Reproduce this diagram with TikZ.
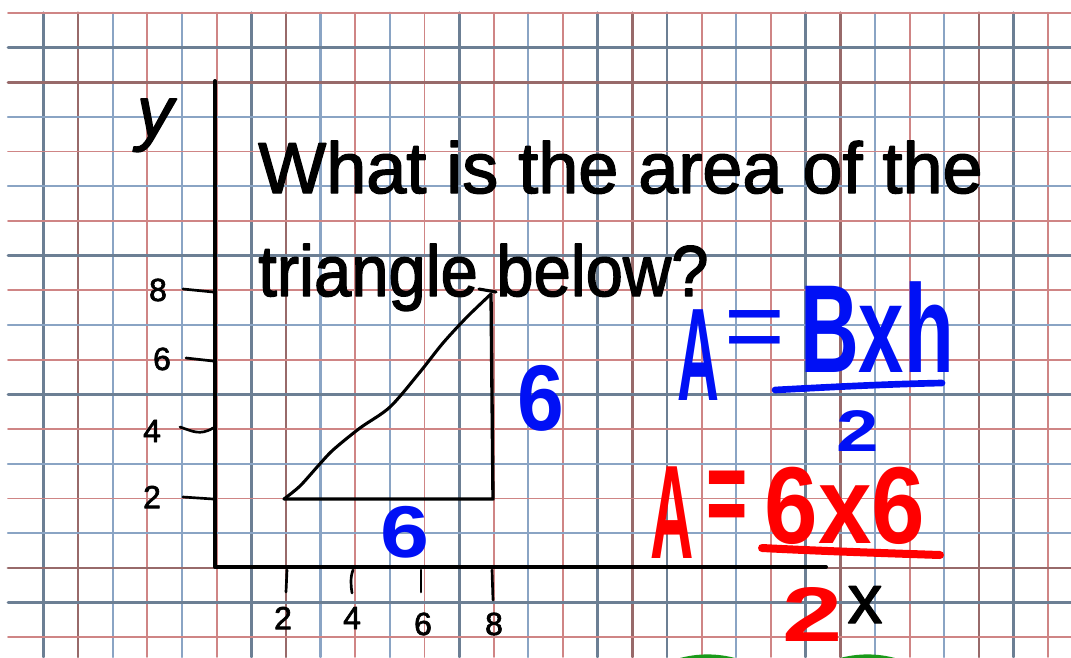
\documentclass[tikz,border=0pt]{standalone}
\usepackage{fontspec}
\setmainfont{Liberation Sans}
\newfontfamily\chalkfont[FakeBold=2]{Liberation Sans}
\usepackage{graphicx}
\usetikzlibrary{calc}
\definecolor{GridRed}{HTML}{CF8585}
\definecolor{GridRedDark}{HTML}{986A6A}
\definecolor{GridBlue}{HTML}{8AA4C4}
\definecolor{GridBlueDark}{HTML}{6C7F94}
\definecolor{PenBlue}{HTML}{0010F5}
\definecolor{PenRed}{HTML}{FF0000}
\definecolor{PenGreen}{HTML}{1A9A1A}
\definecolor{Ink}{HTML}{000000}

\begin{document}
\begin{tikzpicture}[x=0.75pt,y=-0.75pt,line cap=round,line join=round]
\useasboundingbox (0,0) rectangle (1071,657);
\fill[white] (0,0) rectangle (1071,657);
\draw[GridBlueDark,line width=2.1pt] (43.3,12.7) -- (43.3,657);
\draw[GridRedDark,line width=2.1pt] (78.0,12.7) -- (78.0,657);
\draw[GridBlue,line width=1.6pt] (112.6,12.7) -- (112.6,657);
\draw[GridRed,line width=1.4pt] (147.3,12.7) -- (147.3,657);
\draw[GridBlue,line width=1.6pt] (181.9,12.7) -- (181.9,657);
\draw[GridRed,line width=1.4pt] (216.6,12.7) -- (216.6,657);
\draw[GridBlueDark,line width=2.1pt] (251.2,12.7) -- (251.2,657);
\draw[GridRedDark,line width=2.1pt] (285.9,12.7) -- (285.9,657);
\draw[GridBlue,line width=1.6pt] (320.5,12.7) -- (320.5,657);
\draw[GridRed,line width=1.4pt] (355.2,12.7) -- (355.2,657);
\draw[GridBlue,line width=1.6pt] (389.8,12.7) -- (389.8,657);
\draw[GridRed,line width=1.4pt] (424.5,12.7) -- (424.5,657);
\draw[GridBlueDark,line width=2.1pt] (459.1,12.7) -- (459.1,657);
\draw[GridRed,line width=1.4pt] (493.8,12.7) -- (493.8,657);
\draw[GridBlue,line width=1.6pt] (528.4,12.7) -- (528.4,657);
\draw[GridRed,line width=1.4pt] (563.1,12.7) -- (563.1,657);
\draw[GridBlueDark,line width=2.1pt] (597.7,12.7) -- (597.7,657);
\draw[GridRedDark,line width=2.1pt] (632.4,12.7) -- (632.4,657);
\draw[GridBlueDark,line width=2.1pt] (667.0,12.7) -- (667.0,657);
\draw[GridRed,line width=1.4pt] (701.7,12.7) -- (701.7,657);
\draw[GridBlue,line width=1.6pt] (736.3,12.7) -- (736.3,657);
\draw[GridRed,line width=1.4pt] (771.0,12.7) -- (771.0,657);
\draw[GridBlueDark,line width=2.1pt] (805.6,12.7) -- (805.6,657);
\draw[GridRedDark,line width=2.1pt] (840.3,12.7) -- (840.3,657);
\draw[GridBlue,line width=1.6pt] (874.9,12.7) -- (874.9,657);
\draw[GridRed,line width=1.4pt] (909.6,12.7) -- (909.6,657);
\draw[GridBlue,line width=1.6pt] (944.2,12.7) -- (944.2,657);
\draw[GridRedDark,line width=2.1pt] (978.9,12.7) -- (978.9,657);
\draw[GridBlueDark,line width=2.1pt] (1013.5,12.7) -- (1013.5,657);
\draw[GridRed,line width=1.4pt] (1048.2,12.7) -- (1048.2,657);
\draw[GridRed,line width=1.4pt] (8,12.7) -- (1071,12.7);
\draw[GridBlueDark,line width=2.1pt] (8,47.4) -- (1071,47.4);
\draw[GridRedDark,line width=2.1pt] (8,82.1) -- (1071,82.1);
\draw[GridBlue,line width=1.6pt] (8,116.8) -- (1071,116.8);
\draw[GridRed,line width=1.4pt] (8,151.5) -- (1071,151.5);
\draw[GridBlue,line width=1.6pt] (8,186.2) -- (1071,186.2);
\draw[GridRed,line width=1.4pt] (8,220.9) -- (1071,220.9);
\draw[GridBlueDark,line width=2.1pt] (8,255.6) -- (1071,255.6);
\draw[GridRed,line width=1.4pt] (8,290.3) -- (1071,290.3);
\draw[GridBlue,line width=1.6pt] (8,325.0) -- (1071,325.0);
\draw[GridRed,line width=1.4pt] (8,359.7) -- (1071,359.7);
\draw[GridBlueDark,line width=2.1pt] (8,394.4) -- (1071,394.4);
\draw[GridRed,line width=1.4pt] (8,429.1) -- (1071,429.1);
\draw[GridBlue,line width=1.6pt] (8,463.8) -- (1071,463.8);
\draw[GridRed,line width=1.4pt] (8,498.5) -- (1071,498.5);
\draw[GridBlue,line width=1.6pt] (8,533.2) -- (1071,533.2);
\draw[GridRedDark,line width=2.1pt] (8,567.9) -- (1071,567.9);
\draw[GridBlueDark,line width=2.1pt] (8,602.6) -- (1071,602.6);
\draw[GridRed,line width=1.4pt] (8,637.3) -- (1071,637.3);
\coordinate (yTop) at (215,81);
\coordinate (origin) at (215,567);
\coordinate (xEnd) at (826,567);
\draw[Ink,line width=3pt] (yTop) -- (origin) -- (xEnd);
\draw[Ink,line width=2pt] (183,289) -- (213,292);
\draw[Ink,line width=2pt] (186,358) -- (213,361);
\draw[Ink,line width=2pt] (180,427) .. controls (192,431) and (200,436) .. (213,428);
\draw[Ink,line width=2pt] (183,497) -- (213,499);
\draw[Ink,line width=2pt] (287,570) -- (286,592);
\draw[Ink,line width=2pt] (353,570) .. controls (350,578) and (351,586) .. (352,593);
\draw[Ink,line width=2pt] (421,570) -- (421,592);
\draw[Ink,line width=2pt] (492,570) -- (493,600);
\node[font=\chalkfont\fontsize{24}{24}\selectfont,inner sep=0pt] (y8) at (158,290) {8};
\node[font=\chalkfont\fontsize{24}{24}\selectfont,inner sep=0pt] (y6) at (162,359) {6};
\node[font=\chalkfont\fontsize{24}{24}\selectfont,inner sep=0pt] (y4) at (152,431) {4};
\node[font=\chalkfont\fontsize{24}{24}\selectfont,inner sep=0pt] (y2) at (152,497) {2};
\node[font=\chalkfont\fontsize{24}{24}\selectfont,inner sep=0pt] (x2) at (283,618) {2};
\node[font=\chalkfont\fontsize{24}{24}\selectfont,inner sep=0pt] (x4) at (352,618) {4};
\node[font=\chalkfont\fontsize{24}{24}\selectfont,inner sep=0pt] (x6) at (423,624) {6};
\node[font=\chalkfont\fontsize{24}{24}\selectfont,inner sep=0pt] (x8) at (494,624) {8};
\node[font=\chalkfont\itshape\fontsize{54}{54}\selectfont,inner sep=0pt,anchor=base] (ylabel) at (155,137) {y};
\node[font=\chalkfont\fontsize{52}{52}\selectfont,inner sep=0pt,anchor=base] (xlabel) at (865,623) {x};
\node[font=\chalkfont\fontsize{54}{54}\selectfont,inner sep=0pt,anchor=base west] (line1) at (258,193) {What is the area of the};
\node[font=\chalkfont\fontsize{54}{54}\selectfont,inner sep=0pt,anchor=base west] (line2) at (258,296) {\scalebox{0.93}[1]{triangle below?}};
\coordinate (tA) at (284,499);
\coordinate (tB) at (493,499);
\coordinate (tC) at (491,294);
\draw[Ink,line width=2.3pt] plot[smooth] coordinates {(284,499) (300,486) (318,466) (333,450) (360,428) (390,407) (420,372) (443,343) (467,317) (491,294)};
\draw[Ink,line width=2.5pt] (tA) -- (tB) -- (tC);
\draw[Ink,line width=2.3pt] (479,289) -- (496,292);
\node[PenBlue,font=\bfseries\fontsize{70}{70}\selectfont,inner sep=0pt,anchor=base] (side) at (541,430) {\scalebox{0.9}[1]{6}};
\node[PenBlue,font=\bfseries\fontsize{55}{55}\selectfont,inner sep=0pt,anchor=base] (base) at (405,557) {\scalebox{1.2}[1]{6}};
\node[PenBlue,font=\bfseries\fontsize{99}{99}\selectfont,inner sep=0pt,anchor=base] (bA) at (698,400) {\scalebox{0.44}[1]{A}};
\node[PenBlue,font=\fontsize{78}{78}\selectfont,inner sep=0pt] (bEq) at (755,336) {=};
\node[PenBlue,font=\bfseries\fontsize{94}{94}\selectfont,inner sep=0pt,anchor=base] (bNum) at (877,372) {\scalebox{0.65}[1]{Bxh}};
\draw[PenBlue,line width=5pt] (775,390) .. controls (830,387) and (890,384) .. (942,383);
\node[PenBlue,font=\bfseries\fontsize{44}{44}\selectfont,inner sep=0pt,anchor=base] (bDen) at (858,451) {\scalebox{1.3}[1]{2}};
\node[PenRed,font=\bfseries\fontsize{100}{100}\selectfont,inner sep=0pt,anchor=base] (rA) at (672,558) {\scalebox{0.45}[1]{A}};
\node[PenRed,font=\bfseries\fontsize{93}{93}\selectfont,inner sep=0pt] (rEq) at (727,503) {\scalebox{0.57}[1]{=}};
\node[PenRed,font=\bfseries\fontsize{82}{82}\selectfont,inner sep=0pt,anchor=base] (rNum) at (845,543) {\scalebox{0.88}[1]{6x6}};
\draw[PenRed,line width=6pt] (762,548) .. controls (820,551) and (880,553) .. (940,555);
\node[PenRed,font=\bfseries\fontsize{58}{58}\selectfont,inner sep=0pt,anchor=base] (rDen) at (813,641) {\scalebox{1.4}[1]{2}};
\begin{scope}
\clip (0,0) rectangle (1071,657);
\draw[PenGreen,line width=5pt] (650,675) .. controls (685,652) and (730,652) .. (765,675);
\draw[PenGreen,line width=5pt] (810,675) .. controls (845,652) and (890,652) .. (925,675);
\end{scope}
\end{tikzpicture}
\end{document}
